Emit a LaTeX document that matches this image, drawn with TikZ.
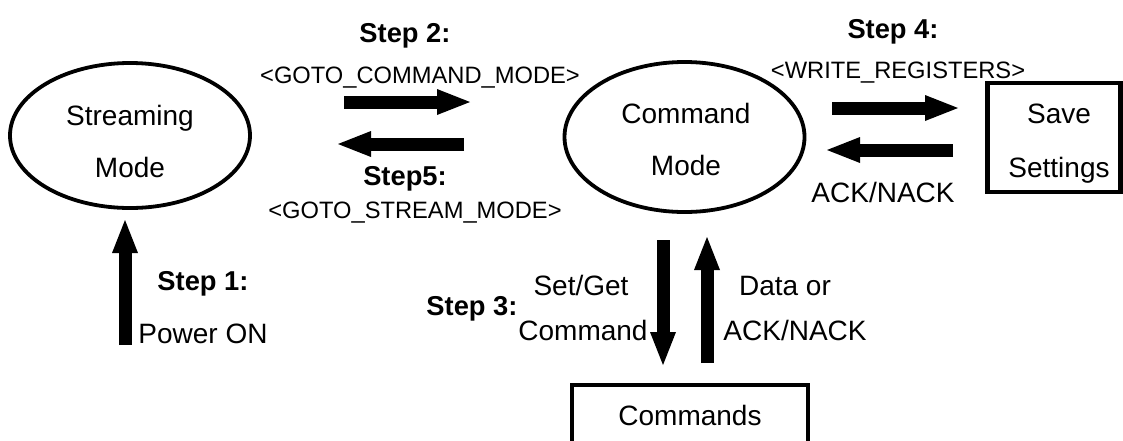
\documentclass[tikz,border=0pt]{standalone}
\usepackage{fontspec}
\setmainfont{Liberation Sans}
\usetikzlibrary{arrows.meta,shapes.geometric}
\begin{document}
\begin{tikzpicture}[x=1pt,y=-1pt,
  big/.style={font=\fontsize{28}{33}\selectfont, inner sep=0pt, anchor=base},
  bigb/.style={font=\fontsize{27.3}{33}\selectfont\bfseries, inner sep=0pt, anchor=base},
  small/.style={font=\fontsize{23.7}{28}\selectfont, inner sep=0pt, anchor=base},
  state/.style={ellipse, draw, line width=3.8pt, inner sep=0pt, minimum width=240pt},
  box/.style={rectangle, draw, line width=4.5pt, inner sep=0pt},
  blockarrow/.style={line width=13pt, -{Triangle[length=33pt,width=26pt,line width=0pt]}}
]
\useasboundingbox (0,0) rectangle (1123,440);
\fill[white] (0,0) rectangle (1123,440);

% states and boxes
\node[state, minimum height=145pt] (stream) at (130,135.5) {};
\node[state, minimum height=150pt] (cmd) at (684.5,137) {};
\node[box, minimum width=133pt, minimum height=109pt] (save) at (1054,137.5) {};
\node[box, minimum width=236pt, minimum height=70pt] (cmds) at (690,420) {};

% texts in shapes
\node[big] (t1) at (130,125) {Streaming};
\node[big] (t2) at (130,177) {Mode};
\node[big] (t3) at (686,123) {Command};
\node[big] (t4) at (686,175) {Mode};
\node[big] (t5) at (1059,123) {Save};
\node[big] (t6) at (1059,177) {Settings};
\node[big] (t7) at (690,425) {Commands};

% labels
\node[bigb] (s1) at (203,290) {Step 1:};
\node[big] (p1) at (203,343) {Power ON};
\node[bigb] (s2) at (405,42) {Step 2:};
\node[small] (g1) at (420,83.5) {<GOTO\_COMMAND\_MODE>};
\node[bigb] (s5) at (405,185) {Step5:};
\node[small] (g2) at (415,218.5) {<GOTO\_STREAM\_MODE>};
\node[bigb] (s4) at (893,38) {Step 4:};
\node[small] (w1) at (898,78.5) {<WRITE\_REGISTERS>};
\node[big] (ak1) at (883,202) {ACK/NACK};
\node[bigb] (s3) at (472,315) {Step 3:};
\node[big] (sg) at (581,295) {Set/Get};
\node[big] (cm) at (583,340) {Command};
\node[big] (do) at (785,295) {Data or};
\node[big] (ak2) at (795,340) {ACK/NACK};

% arrow end points
\coordinate (a1s) at (125,345); \coordinate (a1e) at (125,220);
\coordinate (a2s) at (344,102); \coordinate (a2e) at (470,102);
\coordinate (a3s) at (464,144); \coordinate (a3e) at (338,144);
\coordinate (a4s) at (832,108); \coordinate (a4e) at (958,108);
\coordinate (a5s) at (953,150); \coordinate (a5e) at (827,150);
\coordinate (a6s) at (663,240); \coordinate (a6e) at (663,365);
\coordinate (a7s) at (707,363); \coordinate (a7e) at (707,237);

\draw[blockarrow] (a1s) -- (a1e);
\draw[blockarrow] (a2s) -- (a2e);
\draw[blockarrow] (a3s) -- (a3e);
\draw[blockarrow] (a4s) -- (a4e);
\draw[blockarrow] (a5s) -- (a5e);
\draw[blockarrow] (a6s) -- (a6e);
\draw[blockarrow] (a7s) -- (a7e);
\end{tikzpicture}
\end{document}
